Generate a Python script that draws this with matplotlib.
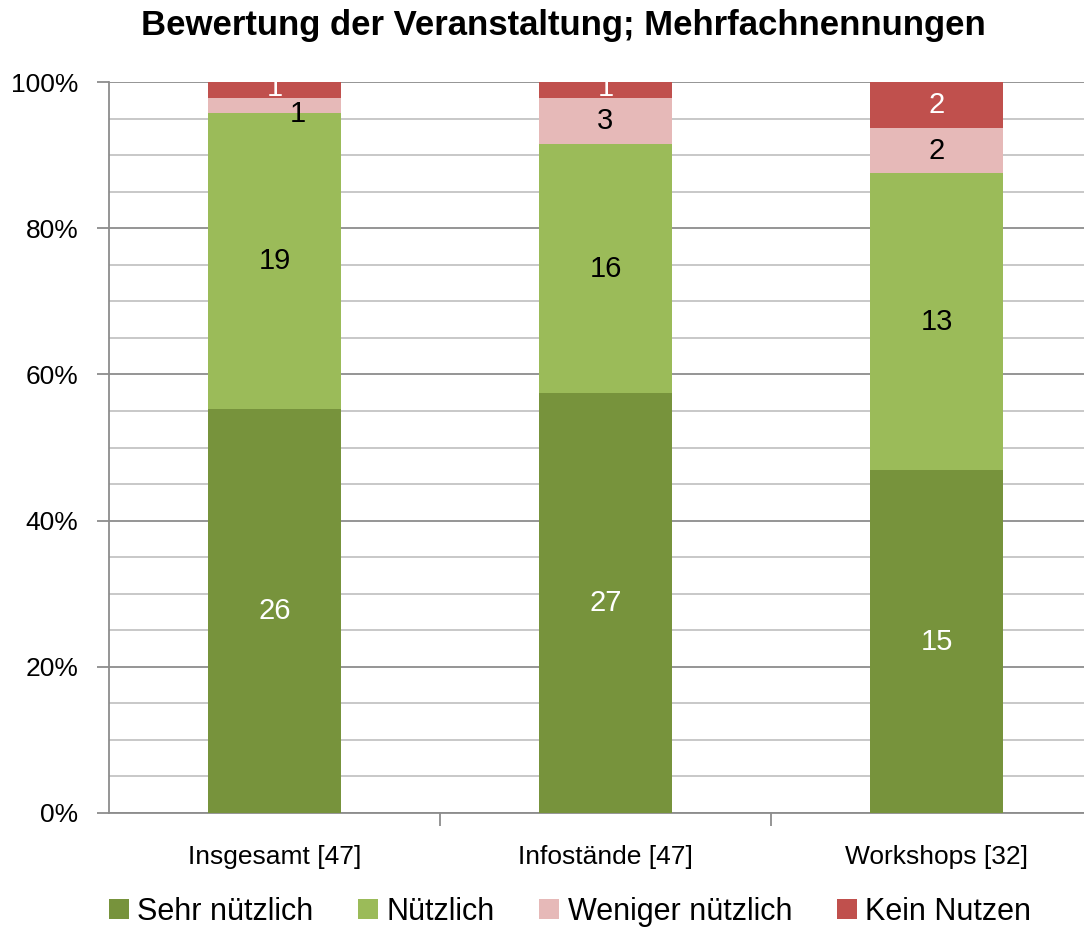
import matplotlib
matplotlib.use("Agg")
import matplotlib.pyplot as plt
import numpy as np
from matplotlib.patches import Patch

plt.rcParams['font.family'] = ['Liberation Sans', 'DejaVu Sans']

categories = ["Insgesamt [47]", "Infostände [47]", "Workshops [32]"]
series = ["Sehr nützlich", "Nützlich", "Weniger nützlich", "Kein Nutzen"]
sehr = [26, 27, 15]
nuetz = [19, 16, 13]
weniger = [1, 3, 2]
kein = [1, 1, 2]
colors = ["#77933C", "#9BBB59", "#E6B9B8", "#C0504D"]
label_colors = ["white", "black", "black", "white"]

data = np.array([sehr, nuetz, weniger, kein], dtype=float)
totals = data.sum(axis=0)
pct = data / totals * 100

fig = plt.figure(figsize=(10.84, 9.34), dpi=100)
W, H = 1084, 934
left, right, top, bottom = 109, 1102, 82, 813
ax = fig.add_axes([left / W, 1 - bottom / H, (right - left) / W, (bottom - top) / H])

x = np.arange(len(categories))
bw = 0.4
base = np.zeros(len(categories))
for i, s in enumerate(series):
    ax.bar(x, pct[i], bw, bottom=base, color=colors[i], zorder=3, label=s)
    for j in range(len(categories)):
        cx = x[j]
        cy = base[j] + pct[i][j] / 2
        if pct[i][j] < 3:
            if i == 2:
                cx = x[j] + 0.07
                cy = base[j] + pct[i][j] / 2 - 1.2
            elif i == 3:
                cy = base[j] + pct[i][j] / 2 + 0.3
        ax.text(cx, cy, f"{int(data[i][j])}", ha="center", va="center",
                fontsize=21, color=label_colors[i], zorder=4)
    base += pct[i]

ax.set_xlim(-0.5, 2.5)
ax.set_ylim(0, 100)
ax.set_yticks(np.arange(0, 101, 20))
ax.set_yticklabels([f"{v}%" for v in range(0, 101, 20)], fontsize=19)
ax.set_yticks(np.arange(0, 101, 5), minor=True)
ax.grid(axis="y", which="major", color="#8c8c8c", linewidth=1.3, zorder=0)
ax.grid(axis="y", which="minor", color="#bfbfbf", linewidth=1.2, zorder=0)
ax.tick_params(axis="y", which="major", length=9, width=1.3, color="#8c8c8c", pad=13)
ax.tick_params(axis="y", which="minor", length=0)

ax.set_xticks([0.5, 1.5])
ax.set_xticks(x, minor=True)
ax.set_xticklabels(["", ""])
ax.set_xticklabels(categories, minor=True, fontsize=19)
ax.tick_params(axis="x", which="major", length=9, width=1.3, color="#8c8c8c")
ax.tick_params(axis="x", which="minor", length=0, pad=23)

for sp in ["top", "right"]:
    ax.spines[sp].set_visible(False)
ax.spines["left"].set_color("#8c8c8c")
ax.spines["left"].set_linewidth(1.3)
ax.spines["bottom"].set_color("#8c8c8c")
ax.spines["bottom"].set_linewidth(1.3)

fig.text(563 / W, 1 - 25 / H, "Bewertung der Veranstaltung; Mehrfachnennungen",
         ha="center", va="center", fontsize=25, fontweight="bold")

handles = [Patch(facecolor=c, edgecolor="none") for c in colors]
fig.legend(handles, series, loc="center", bbox_to_anchor=(570 / W, 1 - 912 / H),
           ncol=4, frameon=False, fontsize=22, handlelength=0.65, handleheight=0.65,
           handletextpad=0.27, columnspacing=1.47)

fig.savefig("out.png", dpi=100)
